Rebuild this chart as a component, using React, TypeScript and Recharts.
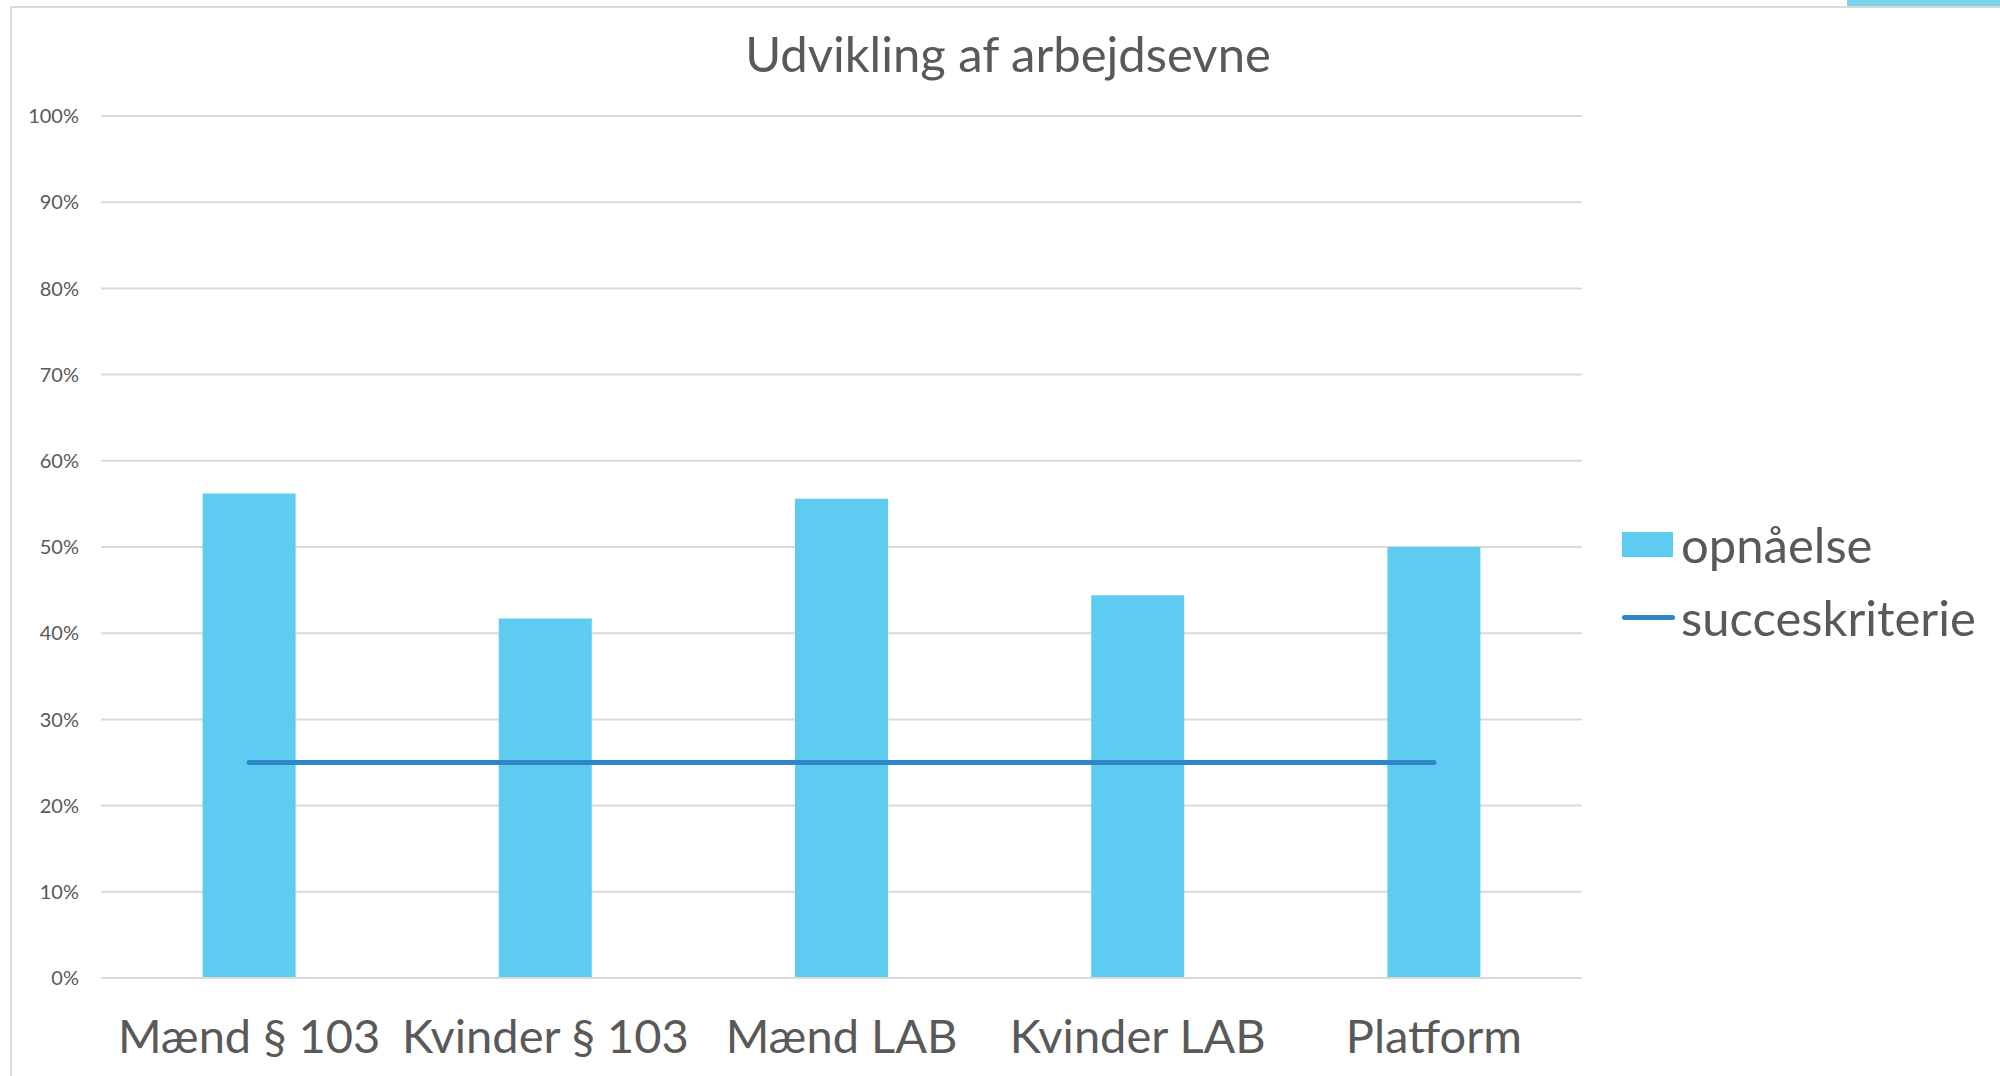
import React from 'react';
import { ComposedChart, Bar, Line, XAxis, YAxis, CartesianGrid } from 'recharts';

const categories = ['Mænd § 103', 'Kvinder § 103', 'Mænd LAB', 'Kvinder LAB', 'Platform'];
const opnaaelse = [0.562, 0.417, 0.556, 0.444, 0.5];
const succeskriterie = [0.25, 0.25, 0.25, 0.25, 0.25];
const yTicks = [0, 0.1, 0.2, 0.3, 0.4, 0.5, 0.6, 0.7, 0.8, 0.9, 1];

const data = categories.map((name, i) => ({
  name,
  opnaaelse: opnaaelse[i],
  succeskriterie: succeskriterie[i],
}));

const FONT = 'Lato, "Open Sans", sans-serif';
const TEXT = '#595959';
const BAR = '#5ECBF0';
const LINE = '#2E86C8';

// legend drawn as plain html so it doesn't eat into the plot area
function LegendBox() {
  return (
    <div
      style={{
        position: 'absolute', left: 1622, top: 508, width: 380,
        fontFamily: FONT, color: TEXT, fontSize: 49, lineHeight: '73px',
      }}
    >
      <div style={{ display: 'flex', alignItems: 'center' }}>
        <span style={{ width: 51, height: 25, background: BAR, marginRight: 8 }} />
        opnåelse
      </div>
      <div style={{ display: 'flex', alignItems: 'center' }}>
        <span style={{ width: 53, height: 5, borderRadius: 3, background: LINE, marginRight: 6 }} />
        succeskriterie
      </div>
    </div>
  );
}

export default function App() {
  return (
    <div style={{ position: 'absolute', left: 0, top: 0, width: 2000, height: 1076, background: '#fff', overflow: 'hidden' }}>
      <div style={{ position: 'absolute', left: 10, top: 6, width: 2000, height: 1100, border: '2px solid #D9D9D9' }} />
      <div style={{ position: 'absolute', left: 1847, top: 0, width: 160, height: 6, background: '#7DD3EE' }} />
      <div
        style={{
          position: 'absolute', left: 0, top: 24, width: 2016, textAlign: 'center',
          fontFamily: FONT, fontSize: 49, color: TEXT,
        }}
      >
        Udvikling af arbejdsevne
      </div>
      <ComposedChart
        width={2000}
        height={1076}
        data={data}
        margin={{ top: 116, right: 418, bottom: 0, left: 0 }}
        barCategoryGap="34.3%"
        style={{ position: 'absolute', left: 0, top: 0 }}
      >
        <CartesianGrid vertical={false} stroke="#D9D9D9" strokeWidth={2} />
        <XAxis
          dataKey="name"
          height={98}
          axisLine={{ stroke: '#D9D9D9', strokeWidth: 2 }}
          tickLine={false}
          tickSize={0}
          tickMargin={42}
          interval={0}
          tick={{ fill: TEXT, fontSize: 47, fontFamily: FONT }}
        />
        <YAxis
          width={101}
          domain={[0, 1]}
          ticks={yTicks}
          axisLine={false}
          tickLine={false}
          tickSize={0}
          tickMargin={22}
          tickFormatter={(v: number) => `${Math.round(v * 100)}%`}
          tick={{ fill: TEXT, fontSize: 20, fontFamily: FONT }}
        />
        <Bar dataKey="opnaaelse" fill={BAR} isAnimationActive={false} />
        <Line
          dataKey="succeskriterie"
          type="linear"
          stroke={LINE}
          strokeWidth={5}
          strokeLinecap="round"
          dot={false}
          activeDot={false}
          isAnimationActive={false}
        />
      </ComposedChart>
      <LegendBox />
    </div>
  );
}
